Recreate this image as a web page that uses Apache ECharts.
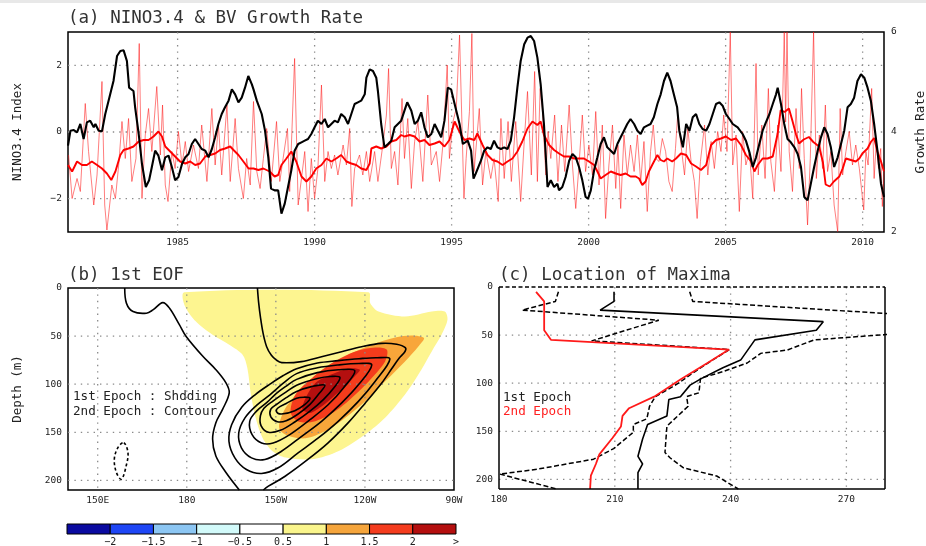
<!DOCTYPE html>
<html>
<head>
<meta charset="utf-8">
<script src="https://cdn.jsdelivr.net/npm/echarts@6/dist/echarts.min.js"></script>
<style>
html,body{margin:0;padding:0;background:#fff}
#c{width:926px;height:546px}
</style>
</head>
<body>
<div id="c"></div>
<script>
// ---------- (a) NINO3.4 index and BV growth rate ----------
const yearTicks = [1985, 1990, 1995, 2000, 2005, 2010];
const ninoTicks = [-2, 0, 2];
const growthTicks = [2, 4, 6];

// NINO3.4 index (left axis): [year, index]
const ninoIndex = [
[1981.00,-0.41],[1981.09,0.04],[1981.21,0.06],[1981.33,-0.01],[1981.45,0.24],[1981.57,-0.21],[1981.69,0.29],[1981.81,0.34],[1981.94,0.14],[1982.00,0.24],[1982.12,0.04],[1982.24,0.02],[1982.36,0.54],[1982.54,1.13],[1982.66,1.53],[1982.79,2.28],[1982.91,2.43],[1983.03,2.45],[1983.15,2.13],[1983.23,1.33],[1983.39,1.23],[1983.45,0.74],[1983.58,-0.06],[1983.70,-0.96],[1983.84,-1.65],[1983.96,-1.45],[1984.06,-1.05],[1984.18,-0.56],[1984.30,-0.71],[1984.43,-1.15],[1984.55,-0.76],[1984.67,-0.71],[1984.79,-1.05],[1984.91,-1.45],[1985.03,-1.35],[1985.16,-0.96],[1985.28,-0.76],[1985.40,-0.66],[1985.52,-0.36],[1985.64,-0.21],[1985.76,-0.36],[1985.88,-0.51],[1986.01,-0.56],[1986.13,-0.76],[1986.25,-0.51],[1986.37,-0.16],[1986.49,0.24],[1986.61,0.54],[1986.73,0.74],[1986.86,0.94],[1986.98,1.28],[1987.10,1.13],[1987.22,0.89],[1987.34,1.03],[1987.46,1.33],[1987.58,1.68],[1987.71,1.43],[1987.77,1.28],[1987.89,0.94],[1988.07,0.54],[1988.19,0.04],[1988.31,-0.76],[1988.41,-1.70],
[1988.54,-1.75],[1988.67,-1.75],[1988.79,-2.45],[1988.91,-2.15],[1989.03,-1.65],[1989.15,-1.15],[1989.27,-0.56],[1989.40,-0.36],[1989.52,-0.31],[1989.64,-0.26],[1989.76,-0.21],[1989.88,-0.06],[1990.00,0.14],[1990.12,0.34],[1990.25,0.24],[1990.37,0.39],[1990.49,0.14],[1990.61,0.24],[1990.73,0.34],[1990.85,0.29],[1990.97,0.54],[1991.10,0.44],[1991.22,0.24],[1991.34,0.54],[1991.46,0.84],[1991.58,0.89],[1991.70,0.94],[1991.83,1.13],[1991.89,1.63],[1992.01,1.88],[1992.13,1.83],[1992.25,1.63],[1992.31,1.23],[1992.43,0.24],[1992.55,-0.46],[1992.68,-0.36],[1992.80,-0.26],[1992.92,0.14],[1993.04,0.24],[1993.16,0.34],[1993.28,0.64],[1993.38,0.89],[1993.53,0.64],[1993.65,0.24],[1993.77,0.34],[1993.89,0.59],[1994.01,0.14],[1994.13,-0.16],[1994.26,-0.06],[1994.38,0.24],[1994.50,0.04],[1994.62,-0.16],[1994.74,0.34],[1994.86,1.33],[1994.98,1.28],[1995.11,0.84],[1995.29,0.24],[1995.41,-0.36],[1995.59,-0.26],[1995.71,-0.56],[1995.80,-1.40],[1995.88,-1.25],
[1996.07,-0.86],[1996.19,-0.56],[1996.31,-0.46],[1996.43,-0.51],[1996.55,-0.26],[1996.67,-0.46],[1996.80,-0.51],[1996.92,-0.46],[1997.04,-0.51],[1997.16,-0.26],[1997.28,0.44],[1997.40,1.33],[1997.52,2.13],[1997.65,2.63],[1997.77,2.83],[1997.89,2.88],[1998.01,2.73],[1998.13,2.23],[1998.25,1.43],[1998.37,0.24],[1998.50,-1.65],[1998.62,-1.45],[1998.74,-1.65],[1998.86,-1.55],[1998.92,-1.75],[1999.04,-1.65],[1999.16,-1.35],[1999.29,-0.86],[1999.41,-0.66],[1999.53,-0.76],[1999.65,-1.05],[1999.77,-1.45],[1999.89,-1.95],[1999.98,-2.00],[2000.08,-1.75],[2000.20,-1.15],[2000.32,-0.76],[2000.44,-0.36],[2000.56,-0.16],[2000.68,-0.46],[2000.81,-0.56],[2000.93,-0.66],[2001.05,-0.36],[2001.17,-0.16],[2001.29,0.04],[2001.41,0.24],[2001.53,0.39],[2001.66,0.24],[2001.78,0.04],[2001.90,-0.06],[2002.02,0.14],[2002.14,0.19],[2002.26,0.24],[2002.38,0.44],[2002.51,0.84],[2002.63,1.13],[2002.75,1.53],[2002.87,1.78],[2002.99,1.53],[2003.11,1.13],[2003.23,0.74],
[2003.31,0.04],[2003.44,-0.46],[2003.56,0.24],[2003.68,0.04],[2003.80,0.44],[2003.92,0.54],[2004.04,0.24],[2004.16,0.09],[2004.29,0.04],[2004.41,0.24],[2004.53,0.54],[2004.65,0.84],[2004.77,0.89],[2004.89,0.79],[2005.01,0.54],[2005.14,0.39],[2005.26,0.24],[2005.44,0.14],[2005.62,-0.06],[2005.74,-0.26],[2005.87,-0.61],[2005.99,-1.05],[2006.11,-0.76],[2006.23,-0.36],[2006.35,0.04],[2006.47,0.29],[2006.60,0.54],[2006.72,0.84],[2006.84,1.13],[2006.90,1.33],[2007.02,0.84],[2007.14,0.24],[2007.26,-0.21],[2007.38,-0.31],[2007.51,-0.46],[2007.63,-0.66],[2007.75,-1.05],[2007.87,-1.95],[2007.99,-2.05],[2008.11,-1.55],[2008.23,-1.05],[2008.36,-0.56],[2008.48,-0.16],[2008.60,0.14],[2008.72,-0.06],[2008.84,-0.46],[2008.96,-1.05],[2009.09,-0.76],[2009.21,-0.36],[2009.33,0.04],[2009.45,0.74],[2009.57,0.84],[2009.69,1.03],[2009.81,1.53],[2009.94,1.73],[2010.06,1.63],[2010.18,1.33],[2010.30,0.94],[2010.42,0.24],[2010.54,-0.56],[2010.67,-1.55],[2010.78,-1.95]
];

// Monthly BV growth rate (right axis): [year, rate]
const growthMonthly = [
[1981.02,3.54],[1981.15,2.67],[1981.33,3.07],[1981.45,2.81],[1981.63,4.57],[1981.75,3.61],[1981.94,2.54],[1982.06,3.14],[1982.24,5.01],[1982.34,2.54],[1982.42,2.04],[1982.60,2.94],[1982.73,2.67],[1982.85,3.34],[1982.97,4.21],[1983.09,3.47],[1983.21,4.27],[1983.33,3.01],[1983.48,3.47],[1983.60,5.77],[1983.70,2.67],[1983.82,3.94],[1983.94,4.47],[1984.06,3.61],[1984.24,4.91],[1984.37,3.54],[1984.45,4.54],[1984.55,2.94],[1984.65,2.61],[1984.79,3.61],[1984.91,3.27],[1985.03,4.01],[1985.16,3.34],[1985.28,3.81],[1985.40,3.21],[1985.58,3.74],[1985.76,3.27],[1985.88,4.14],[1986.07,3.01],[1986.25,4.47],[1986.37,3.34],[1986.49,4.14],[1986.61,3.14],[1986.80,4.54],[1986.92,3.01],[1987.10,4.27],[1987.22,3.27],[1987.40,2.67],[1987.52,3.47],[1987.65,2.94],[1987.77,4.61],[1987.89,3.21],[1988.01,2.87],[1988.13,3.47],[1988.25,4.07],
[1988.42,3.01],[1988.61,4.21],[1988.73,3.01],[1988.85,3.47],[1989.01,4.07],[1989.09,2.81],[1989.27,5.47],[1989.40,2.54],[1989.52,3.07],[1989.64,3.61],[1989.76,2.41],[1989.88,3.47],[1990.00,2.67],[1990.12,3.27],[1990.25,4.94],[1990.37,3.01],[1990.49,3.61],[1990.61,3.27],[1990.73,3.54],[1990.85,3.14],[1991.04,3.74],[1991.16,3.34],[1991.28,4.07],[1991.36,2.51],[1991.46,3.27],[1991.64,3.54],[1991.76,3.14],[1991.89,3.61],[1992.01,3.01],[1992.19,3.61],[1992.31,3.01],[1992.49,3.74],[1992.62,4.34],[1992.70,5.27],[1992.80,3.27],[1992.92,3.61],[1993.04,2.94],[1993.19,4.67],[1993.28,3.47],[1993.40,4.27],[1993.53,2.87],[1993.65,3.81],[1993.77,4.21],[1993.95,3.01],[1994.13,4.74],[1994.26,3.34],[1994.44,3.61],[1994.56,3.01],[1994.68,3.74],[1994.84,5.34],[1994.92,3.47],[1995.05,4.21],[1995.17,4.47],[1995.29,5.94],[1995.45,2.67],[1995.53,3.47],[1995.65,4.41],[1995.74,5.97],[1995.82,3.21],
[1996.01,4.47],[1996.13,2.94],[1996.25,3.61],[1996.43,3.07],[1996.55,3.47],[1996.70,2.61],[1996.80,4.27],[1996.92,3.07],[1997.06,4.21],[1997.18,3.01],[1997.34,4.21],[1997.52,2.61],[1997.65,3.81],[1997.77,4.81],[1997.91,3.14],[1998.03,5.21],[1998.13,3.01],[1998.23,4.87],[1998.31,4.47],[1998.44,3.14],[1998.52,4.01],[1998.62,3.47],[1998.76,4.34],[1998.88,3.01],[1999.01,4.14],[1999.13,3.21],[1999.29,4.54],[1999.41,3.34],[1999.53,2.47],[1999.65,3.34],[1999.77,4.34],[1999.89,3.21],[2000.01,3.74],[2000.14,3.14],[2000.26,4.41],[2000.38,2.94],[2000.50,4.14],[2000.62,2.27],[2000.74,3.34],[2000.87,4.14],[2000.99,2.87],[2001.07,3.74],[2001.17,2.47],[2001.29,3.94],[2001.41,3.14],[2001.53,3.74],[2001.66,3.21],[2001.78,3.94],[2001.90,3.01],[2002.02,3.81],[2002.14,2.41],[2002.26,3.61],[2002.36,4.14],[2002.45,3.47],[2002.57,3.41],[2002.69,3.87],[2002.81,3.61],[2002.93,3.01],[2003.05,2.81],[2003.17,3.67],
[2003.25,4.34],[2003.37,3.74],[2003.50,3.14],[2003.62,4.07],[2003.74,3.41],[2003.86,3.01],[2003.96,2.27],[2004.08,3.41],[2004.23,4.14],[2004.35,3.14],[2004.47,3.81],[2004.59,3.27],[2004.71,4.01],[2004.83,3.61],[2004.93,4.34],[2005.05,3.61],[2005.17,6.00],[2005.26,3.34],[2005.38,3.94],[2005.50,2.41],[2005.62,4.01],[2005.74,3.34],[2005.87,3.61],[2005.99,2.67],[2006.11,5.37],[2006.19,3.14],[2006.32,4.14],[2006.44,3.07],[2006.56,4.87],[2006.65,3.41],[2006.78,2.81],[2006.90,4.14],[2007.02,3.21],[2007.14,6.00],[2007.19,4.20],[2007.24,6.00],[2007.32,3.61],[2007.44,2.81],[2007.57,4.47],[2007.69,3.27],[2007.77,4.87],[2007.87,3.47],[2007.99,2.14],[2008.09,3.47],[2008.21,6.00],[2008.31,3.07],[2008.42,3.94],[2008.54,3.27],[2008.64,4.54],[2008.72,3.21],[2008.84,3.61],[2008.96,2.54],[2009.09,2.01],[2009.18,4.47],[2009.27,3.14],[2009.39,3.61],[2009.51,4.01],[2009.63,3.34],[2009.75,3.74],[2009.88,3.27],[2010.04,2.44],[2010.12,3.61],[2010.20,3.34],[2010.33,4.87],[2010.42,3.07],[2010.50,3.81],[2010.58,3.27],[2010.66,3.67],[2010.72,2.51],[2010.78,3.20]
];

// Smoothed BV growth rate (right axis): [year, rate]
const growthSmooth = [
[1981.00,3.34],[1981.15,3.21],[1981.33,3.41],[1981.51,3.34],[1981.69,3.34],[1981.87,3.41],[1982.06,3.34],[1982.24,3.27],[1982.42,3.17],[1982.58,3.04],[1982.73,3.21],[1982.91,3.54],[1983.03,3.64],[1983.21,3.67],[1983.39,3.71],[1983.58,3.81],[1983.76,3.84],[1983.94,3.84],[1984.12,3.91],[1984.30,4.01],[1984.43,3.91],[1984.55,3.71],[1984.73,3.61],[1984.91,3.51],[1985.09,3.41],[1985.28,3.37],[1985.46,3.41],[1985.64,3.34],[1985.82,3.37],[1986.01,3.51],[1986.19,3.54],[1986.37,3.57],[1986.55,3.64],[1986.73,3.67],[1986.92,3.71],[1987.04,3.64],[1987.22,3.54],[1987.40,3.41],[1987.59,3.27],[1987.77,3.27],[1987.95,3.24],[1988.13,3.27],[1988.36,3.21],[1988.54,3.11],[1988.67,3.14],[1988.79,3.34],[1988.97,3.47],[1989.15,3.61],[1989.33,3.41],[1989.52,3.11],[1989.70,3.01],[1989.88,3.11],[1990.06,3.27],[1990.25,3.34],[1990.43,3.47],[1990.61,3.41],[1990.79,3.47],[1990.97,3.54],[1991.16,3.41],[1991.34,3.37],[1991.52,3.34],[1991.70,3.27],[1991.89,3.24],[1992.01,3.37],[1992.07,3.67],[1992.25,3.71],[1992.43,3.67],[1992.62,3.71],[1992.80,3.81],[1992.98,3.84],[1993.16,3.94],[1993.28,3.91],[1993.47,3.94],[1993.65,3.91],[1993.83,3.81],[1994.01,3.84],[1994.19,3.74],[1994.38,3.77],[1994.56,3.81],[1994.74,3.71],[1994.92,3.84],[1995.11,4.21],[1995.23,4.07],[1995.35,3.94],[1995.47,3.84],[1995.65,3.87],[1995.83,3.84],[1995.94,3.97],
[1996.13,3.74],[1996.31,3.54],[1996.49,3.44],[1996.67,3.41],[1996.86,3.34],[1997.04,3.41],[1997.22,3.47],[1997.40,3.61],[1997.58,3.81],[1997.77,4.07],[1997.95,4.21],[1998.13,4.14],[1998.25,4.21],[1998.37,3.94],[1998.56,3.74],[1998.74,3.64],[1998.92,3.57],[1999.10,3.51],[1999.29,3.51],[1999.47,3.47],[1999.65,3.47],[1999.83,3.47],[2000.01,3.41],[2000.20,3.34],[2000.32,3.21],[2000.44,3.07],[2000.62,3.14],[2000.81,3.21],[2000.99,3.17],[2001.17,3.14],[2001.35,3.17],[2001.53,3.11],[2001.72,3.11],[2001.84,3.07],[2001.96,2.94],[2002.08,3.01],[2002.20,3.21],[2002.32,3.34],[2002.51,3.54],[2002.63,3.44],[2002.75,3.41],[2002.87,3.47],[2003.05,3.41],[2003.19,3.47],[2003.37,3.57],[2003.56,3.54],[2003.74,3.37],[2003.92,3.31],[2004.10,3.24],[2004.29,3.34],[2004.47,3.74],[2004.65,3.84],[2004.83,3.87],[2005.01,3.91],[2005.20,3.84],[2005.38,3.87],[2005.56,3.74],[2005.74,3.54],[2005.93,3.41],[2006.05,3.21],[2006.17,3.34],[2006.35,3.47],[2006.53,3.47],[2006.72,3.51],[2006.90,3.97],[2007.01,4.44],[2007.15,4.40],[2007.31,4.47],[2007.43,4.24],[2007.57,3.95],[2007.68,3.77],[2007.85,3.85],[2008.04,3.90],[2008.20,3.80],[2008.41,3.71],[2008.55,3.40],[2008.65,2.95],[2008.80,2.91],[2008.95,3.01],[2009.15,3.11],[2009.27,3.27],[2009.39,3.47],[2009.57,3.44],[2009.75,3.41],[2009.88,3.47],[2009.99,3.57],[2010.18,3.67],[2010.30,3.80],[2010.42,3.88],[2010.54,3.61],[2010.67,3.41],[2010.78,3.21]
];

// ---------- (b) 1st EOF, longitude (deg E) vs depth (m) ----------
const lonTicks = [150, 180, 210, 240, 270];
const lonTickText = ['150E', '180', '150W', '120W', '90W'];
const depthTicks = [0, 50, 100, 150, 200];

// shaded regions of the 1st epoch (>0.5, >1, >1.5, >2)
const eofShade05 = [[179.2,4.5],[241.2,4.5],[241.8,15.9],[244.6,24.5],[253.5,29.7],[262.5,24.5],[266.9,24.5],[267.8,33.1],[265.8,48.7],[262.5,65.9],[258.0,90.0],[253.5,110.8],[246.8,134.9],[240.1,152.2],[231.2,169.4],[222.2,178.0],[213.3,176.3],[208.8,169.4],[205.5,155.6],[203.2,134.9],[201.6,110.8],[200.4,83.2],[198.8,69.4],[194.3,59.0],[188.7,48.7],[183.1,34.9],[179.2,17.6]];
const eofShade10 = [[211.1,141.8],[213.3,124.6],[217.8,107.3],[224.5,88.3],[233.4,71.1],[242.3,59.0],[250.2,51.4],[255.8,49.3],[259.9,52.0],[258.0,60.7],[253.5,76.3],[246.8,97.0],[240.1,117.7],[233.4,134.9],[226.7,148.7],[220.0,156.3],[214.4,153.9],[211.6,148.7]];
const eofShade15 = [[215.0,129.7],[216.6,110.8],[222.2,93.5],[228.9,78.0],[236.8,65.9],[243.5,61.8],[247.4,64.2],[246.8,76.3],[242.3,93.5],[236.8,110.8],[230.1,128.0],[223.3,138.4],[217.8,139.0]];
const eofShade20 = [[219.5,118.0],[221.5,106.0],[224.0,97.0],[229.5,89.0],[235.0,83.5],[238.3,85.0],[236.5,92.0],[233.5,102.0],[229.0,114.0],[225.0,124.0],[221.5,130.0],[219.0,126.0]];

// contours of the 2nd epoch
const contourZero = [[159.1,0],[159.7,16],[161.9,24.5],[166.4,26.2],[168.6,22.8],[171.9,15.2],[174.2,21],[177.5,38],[179.8,50.4],[185.4,71],[189.8,84.9],[193.2,98.7],[194.3,109],[192.1,126],[189.8,140],[188.7,157],[189.8,174.6],[193.2,191.8],[197.7,210]];
const contourOuter = [[203.8,0],[204.2,15],[204.8,30],[205.7,47],[206.9,61],[208.5,70],[210.2,75],[212.0,77.6],[218.6,76.5],[225.4,71.4],[232.1,66.2],[238.9,61],[245.6,57.6],[250.7,58.5],[253.6,62],[253.5,66],[251.5,73],[249.0,84],[245.6,99],[240.0,120],[234.4,140],[227.6,161],[220.9,178],[213.0,196],[207.5,206],[205.8,210]];
const ring1 = [[248.4,74.0],[243.4,97.2],[237.8,117.9],[231.0,138.6],[224.3,155.9],[217.5,171.4],[210.8,186.9],[205.2,192.8],[200.1,188.7],[196.2,176.6],[194.2,159.3],[195.1,142.1],[198.5,124.0],[203.0,111.0],[208.0,100.0],[212.5,91.0],[217.0,84.0],[224.0,78.0],[231.0,75.5],[238.0,73.5],[244.0,72.5]];
const ring2 = [[242.3,80.0],[237.8,100.7],[232.1,119.7],[225.4,138.6],[218.7,154.2],[211.9,169.7],[206.3,178.3],[201.8,176.6],[198.4,166.2],[197.5,150.7],[199.6,135.0],[203.5,122.0],[208.0,111.0],[212.5,99.0],[217.0,89.0],[224.0,83.0],[231.0,80.0],[238.0,78.5]];
const ring3 = [[236.6,86.0],[232.7,104.1],[227.6,121.4],[221.5,136.9],[214.7,152.4],[209.1,161.1],[205.2,161.1],[202.0,152.4],[201.2,138.6],[203.5,128.0],[207.0,119.0],[210.0,110.0],[213.5,102.0],[217.0,95.0],[224.0,88.0],[231.0,85.0]];
const ring4 = [[231.6,93.0],[229.5,104.0],[226.0,116.0],[221.5,128.0],[216.5,139.0],[211.5,148.0],[207.5,150.0],[205.0,143.0],[204.8,133.0],[206.0,125.0],[209.0,117.5],[213.5,108.0],[217.0,101.0],[224.0,94.0],[228.5,92.0]];
const ring5 = [[226.5,101.0],[224.5,110.0],[221.5,121.0],[217.5,131.0],[213.5,138.0],[210.5,139.0],[208.3,134.0],[208.3,126.0],[210.5,120.5],[213.5,114.0],[217.0,107.5],[222.0,102.5]];
const ring6 = [[221.5,114.5],[219.8,121.0],[216.4,127.5],[211.9,131.0],[210.2,128.5],[210.8,124.5],[213.5,120.0],[217.0,114.5],[219.5,113.5]];
const negRing = [[158.8,160.8],[160.2,171.1],[159.6,184.8],[158.0,198.8],[156.3,191.8],[155.6,178.0],[156.8,166.0]];

// ---------- (c) location of maxima, longitude (deg E) vs depth (m) ----------
const maxLonTicks = [180, 210, 240, 270];
const epoch2Max = [[189.6,5],[191.7,15],[191.7,45],[193.5,55],[239.6,65],[234.0,79],[227.1,96],[220.2,114],[213.7,126],[212.0,134],[211.6,145],[209.4,157],[206.0,174],[205.1,184],[203.8,196],[203.6,210]];
const epoch1Max = [[209.8,5],[209.8,15],[206.2,24],[264.0,36],[262.2,45],[246.3,55],[242.6,76],[238.0,84],[232.5,95],[229.5,102],[227.0,114],[224.0,117],[223.5,134],[218.5,143],[217.2,158],[216.0,176],[217.2,184],[216.0,193],[216.0,210]];
const epoch1Low = [[195.4,5],[194.6,15],[186.0,24],[221.4,34.5],[204.0,56],[239.7,65],[234.5,78],[230.0,90],[226.5,100],[220.5,114],[219.0,124],[218.3,137],[214.8,143],[214.8,151],[209.7,168],[204.5,179],[189.8,189.5],[180.2,194.5],[195.0,210]];
const epoch1High = [[229.4,5],[230.2,15],[290.0,30],[290.0,46],[280.0,49.5],[261.6,55],[254.7,65.5],[247.8,69],[244.3,79],[238.0,88],[232.2,95],[231.8,110],[228.6,114],[229.0,124],[223.5,144.6],[223.0,172],[224.3,177.5],[227.8,188],[236.4,196.5],[242.0,210]];

// ---------- colour bar ----------
const barEdges = [1, 2, 3, 4, 5, 6, 7, 8, 9];
const barLabels = ['\u22122', '\u22121.5', '\u22121', '\u22120.5', '0.5', '1', '1.5', '2', '>'];
const barColors = ['#0a0aa0', '#1e46f5', '#8cc6f3', '#d2fafa', '#ffffff', '#faf58c', '#f5a53c', '#f43c1e', '#b40f0f'];

// ---------- drawing ----------
const MONO = '"DejaVu Sans Mono", monospace';
const tickFont = { fontFamily: MONO, fontSize: 9.5, color: '#222' };
const nameFont = { fontFamily: MONO, fontSize: 12.5, color: '#222' };
const minusFmt = v => (v < 0 ? '\u2212' : '') + Math.abs(v);

function gridLines(xi, yi, values, dir, lo, hi) {
  return {
    type: 'custom', xAxisIndex: xi, yAxisIndex: yi, silent: true, z: 3,
    data: values.map(v => [v, v]),
    renderItem(params, api) {
      const v = api.value(0);
      const a = dir === 'v' ? api.coord([v, lo]) : api.coord([lo, v]);
      const b = dir === 'v' ? api.coord([v, hi]) : api.coord([hi, v]);
      return { type: 'line', shape: { x1: a[0], y1: a[1], x2: b[0], y2: b[1] },
        style: { stroke: '#8a8a8a', lineWidth: 1.3, lineDash: [1.4, 5] } };
    }
  };
}

// frame of panel (c): solid sides, dashed top edge
function frameSeries(xi, yi, x0, x1, y0, y1) {
  const sides = [[[x0, y0], [x1, y0], true], [[x1, y0], [x1, y1]], [[x1, y1], [x0, y1]], [[x0, y1], [x0, y0]]];
  return {
    type: 'custom', xAxisIndex: xi, yAxisIndex: yi, silent: true, z: 8,
    data: sides.map((s, i) => [i, i]),
    renderItem(params, api) {
      const s = sides[params.dataIndex];
      const a = api.coord(s[0]), b = api.coord(s[1]);
      return { type: 'line', shape: { x1: a[0], y1: a[1], x2: b[0], y2: b[1] },
        style: { stroke: '#000', lineWidth: 1.5, lineDash: s[2] ? [4, 2.5] : null } };
    }
  };
}

const shadeSet = [eofShade05, eofShade10, eofShade15, eofShade20];
const shadeColors = ['#fdf590', '#f8a63a', '#f43c1c', '#b40f0f'];
const contourSet = [
  { pts: contourZero, closed: false }, { pts: contourOuter, closed: false },
  { pts: ring1, closed: true }, { pts: ring2, closed: true }, { pts: ring3, closed: true },
  { pts: ring4, closed: true }, { pts: ring5, closed: true }, { pts: ring6, closed: true },
  { pts: negRing, closed: true, dashed: true }
];

function lineSeries(xi, yi, data, color, width, z, dashed) {
  return { type: 'line', xAxisIndex: xi, yAxisIndex: yi, data: data, symbol: 'none',
    lineStyle: { color: color, width: width, type: dashed ? [5, 2.5] : 'solid' }, z: z, silent: true };
}

const axisBase = { axisLine: { show: false }, axisTick: { show: false }, splitLine: { show: false } };
const fixedBox = { outerBoundsMode: 'none', containLabel: false };

const option = {
  animation: false,
  backgroundColor: '#fff',
  grid: [
    Object.assign({ left: 68, top: 32, width: 816, height: 200, show: true, borderColor: '#000', borderWidth: 1.5, backgroundColor: 'transparent' }, fixedBox),
    Object.assign({ left: 68, top: 288, width: 386, height: 202, show: true, borderColor: '#000', borderWidth: 1.5, backgroundColor: 'transparent' }, fixedBox),
    Object.assign({ left: 499, top: 287, width: 386, height: 202, show: false }, fixedBox),
    Object.assign({ left: 67, top: 524, width: 389, height: 10, show: false }, fixedBox)
  ],
  xAxis: [
    Object.assign({ gridIndex: 0, type: 'value', min: 1981, max: 2010.78,
      axisLabel: Object.assign({ margin: 6, customValues: yearTicks, formatter: v => String(v) }, tickFont) }, axisBase),
    Object.assign({ gridIndex: 1, type: 'value', min: 140, max: 270,
      axisLabel: Object.assign({ margin: 6, customValues: lonTicks, formatter: v => lonTickText[lonTicks.indexOf(v)] }, tickFont) }, axisBase),
    Object.assign({ gridIndex: 2, type: 'value', min: 180, max: 280,
      axisLabel: Object.assign({ margin: 6, customValues: maxLonTicks, formatter: v => String(v) }, tickFont) }, axisBase),
    Object.assign({ gridIndex: 3, type: 'value', min: 0, max: 9,
      axisLabel: Object.assign({ margin: 3, customValues: barEdges, formatter: v => barLabels[v - 1] }, tickFont, { fontSize: 10 }) }, axisBase)
  ],
  yAxis: [
    Object.assign({ gridIndex: 0, type: 'value', min: -3, max: 3, name: 'NINO3.4 Index', nameLocation: 'middle', nameGap: 44, nameTextStyle: nameFont,
      axisLabel: Object.assign({ margin: 6, customValues: ninoTicks, formatter: minusFmt }, tickFont) }, axisBase),
    Object.assign({ gridIndex: 0, type: 'value', position: 'right', min: 2, max: 6, name: 'Growth Rate', nameLocation: 'middle', nameGap: 31, nameTextStyle: nameFont,
      axisLabel: Object.assign({ margin: 7, customValues: growthTicks, formatter: v => String(v) }, tickFont) }, axisBase),
    Object.assign({ gridIndex: 1, type: 'value', inverse: true, min: 0, max: 210, name: 'Depth (m)', nameLocation: 'middle', nameGap: 44, nameTextStyle: nameFont,
      axisLabel: Object.assign({ margin: 6, customValues: depthTicks, formatter: v => String(v) }, tickFont) }, axisBase),
    Object.assign({ gridIndex: 2, type: 'value', inverse: true, min: 0, max: 210,
      axisLabel: Object.assign({ margin: 6, customValues: depthTicks, formatter: v => String(v) }, tickFont) }, axisBase),
    { gridIndex: 3, type: 'value', min: 0, max: 1, show: false }
  ],
  series: [
    // (a)
    gridLines(0, 0, yearTicks, 'v', -3, 3),
    gridLines(0, 0, ninoTicks, 'h', 1981, 2010.78),
    lineSeries(0, 1, growthMonthly, 'rgba(255,20,20,0.55)', 1, 4),
    lineSeries(0, 1, growthSmooth, '#ff0000', 1.9, 5),
    lineSeries(0, 0, ninoIndex, '#000000', 2.1, 6),
    // (b) shading
    {
      type: 'custom', xAxisIndex: 1, yAxisIndex: 2, silent: true, z: 2,
      data: shadeSet.map((s, i) => [i, i]),
      renderItem(params, api) {
        const pts = shadeSet[params.dataIndex].map(p => api.coord(p));
        return { type: 'polygon', shape: { points: pts, smooth: 0.3 },
          style: { fill: shadeColors[params.dataIndex], stroke: null } };
      }
    },
    gridLines(1, 2, [150, 180, 210, 240], 'v', 0, 210),
    gridLines(1, 2, [50, 100, 150, 200], 'h', 140, 270),
    // (b) contours
    {
      type: 'custom', xAxisIndex: 1, yAxisIndex: 2, silent: true, z: 5,
      data: contourSet.map((c, i) => [i, i]),
      renderItem(params, api) {
        const c = contourSet[params.dataIndex];
        const pts = c.pts.map(p => api.coord(p));
        return { type: c.closed ? 'polygon' : 'polyline', shape: { points: pts, smooth: 0.35 },
          style: { fill: 'none', stroke: '#000', lineWidth: 1.6, lineDash: c.dashed ? [3, 2.5] : null } };
      }
    },
    // (c)
    gridLines(2, 3, [210, 240, 270], 'v', 0, 210),
    gridLines(2, 3, [50, 100, 150, 200], 'h', 180, 280),
    lineSeries(2, 3, epoch1Low, '#000', 1.5, 5, true),
    lineSeries(2, 3, epoch1High, '#000', 1.5, 5, true),
    lineSeries(2, 3, epoch1Max, '#000', 1.6, 6),
    lineSeries(2, 3, epoch2Max, '#ff1a1a', 1.8, 7),
    frameSeries(2, 3, 180, 280, 0, 210),
    // colour bar
    {
      type: 'custom', xAxisIndex: 3, yAxisIndex: 4, silent: true, z: 2,
      data: barColors.map((c, i) => [i, 0]),
      renderItem(params, api) {
        const i = api.value(0);
        const a = api.coord([i, 1]);
        const b = api.coord([i + 1, 0]);
        return { type: 'rect', shape: { x: a[0], y: a[1], width: b[0] - a[0], height: b[1] - a[1] },
          style: { fill: barColors[params.dataIndex], stroke: '#000', lineWidth: 1 } };
      }
    }
  ],
  graphic: [
    { type: 'rect', silent: true, z: 100, shape: { x: 0, y: 0, width: 926, height: 3 }, style: { fill: '#e8e8e8' } },
    { type: 'text', z: 100, x: 68, y: 18, style: { text: '(a) NINO3.4 & BV Growth Rate', font: '17.5px ' + MONO, fill: '#333', verticalAlign: 'middle' } },
    { type: 'text', z: 100, x: 68, y: 275, style: { text: '(b) 1st EOF', font: '17.5px ' + MONO, fill: '#333', verticalAlign: 'middle' } },
    { type: 'text', z: 100, x: 499, y: 275, style: { text: '(c) Location of Maxima', font: '17.5px ' + MONO, fill: '#333', verticalAlign: 'middle' } },
    { type: 'text', z: 100, x: 73, y: 397, style: { text: '1st Epoch : Shdding', font: '12.6px ' + MONO, fill: '#222', verticalAlign: 'middle' } },
    { type: 'text', z: 100, x: 73, y: 412, style: { text: '2nd Epoch : Contour', font: '12.6px ' + MONO, fill: '#222', verticalAlign: 'middle' } },
    { type: 'text', z: 100, x: 503, y: 398, style: { text: '1st Epoch', font: '12.6px ' + MONO, fill: '#222', verticalAlign: 'middle' } },
    { type: 'text', z: 100, x: 503, y: 412, style: { text: '2nd Epoch', font: '12.6px ' + MONO, fill: '#ff2020', verticalAlign: 'middle' } },
    // right-hand axis title, placed close to the page edge
    { type: 'text', z: 100, x: 921, y: 132, rotation: Math.PI / 2, style: { text: 'Growth Rate', font: '12.5px ' + MONO, fill: '#222', align: 'center', verticalAlign: 'middle' } }
  ]
};
// the right axis title is drawn as a graphic so it can sit at the page edge
option.yAxis[1].name = '';

const chart = echarts.init(document.getElementById('c'), null, { renderer: 'canvas' });
chart.setOption(option);
</script>
</body>
</html>
